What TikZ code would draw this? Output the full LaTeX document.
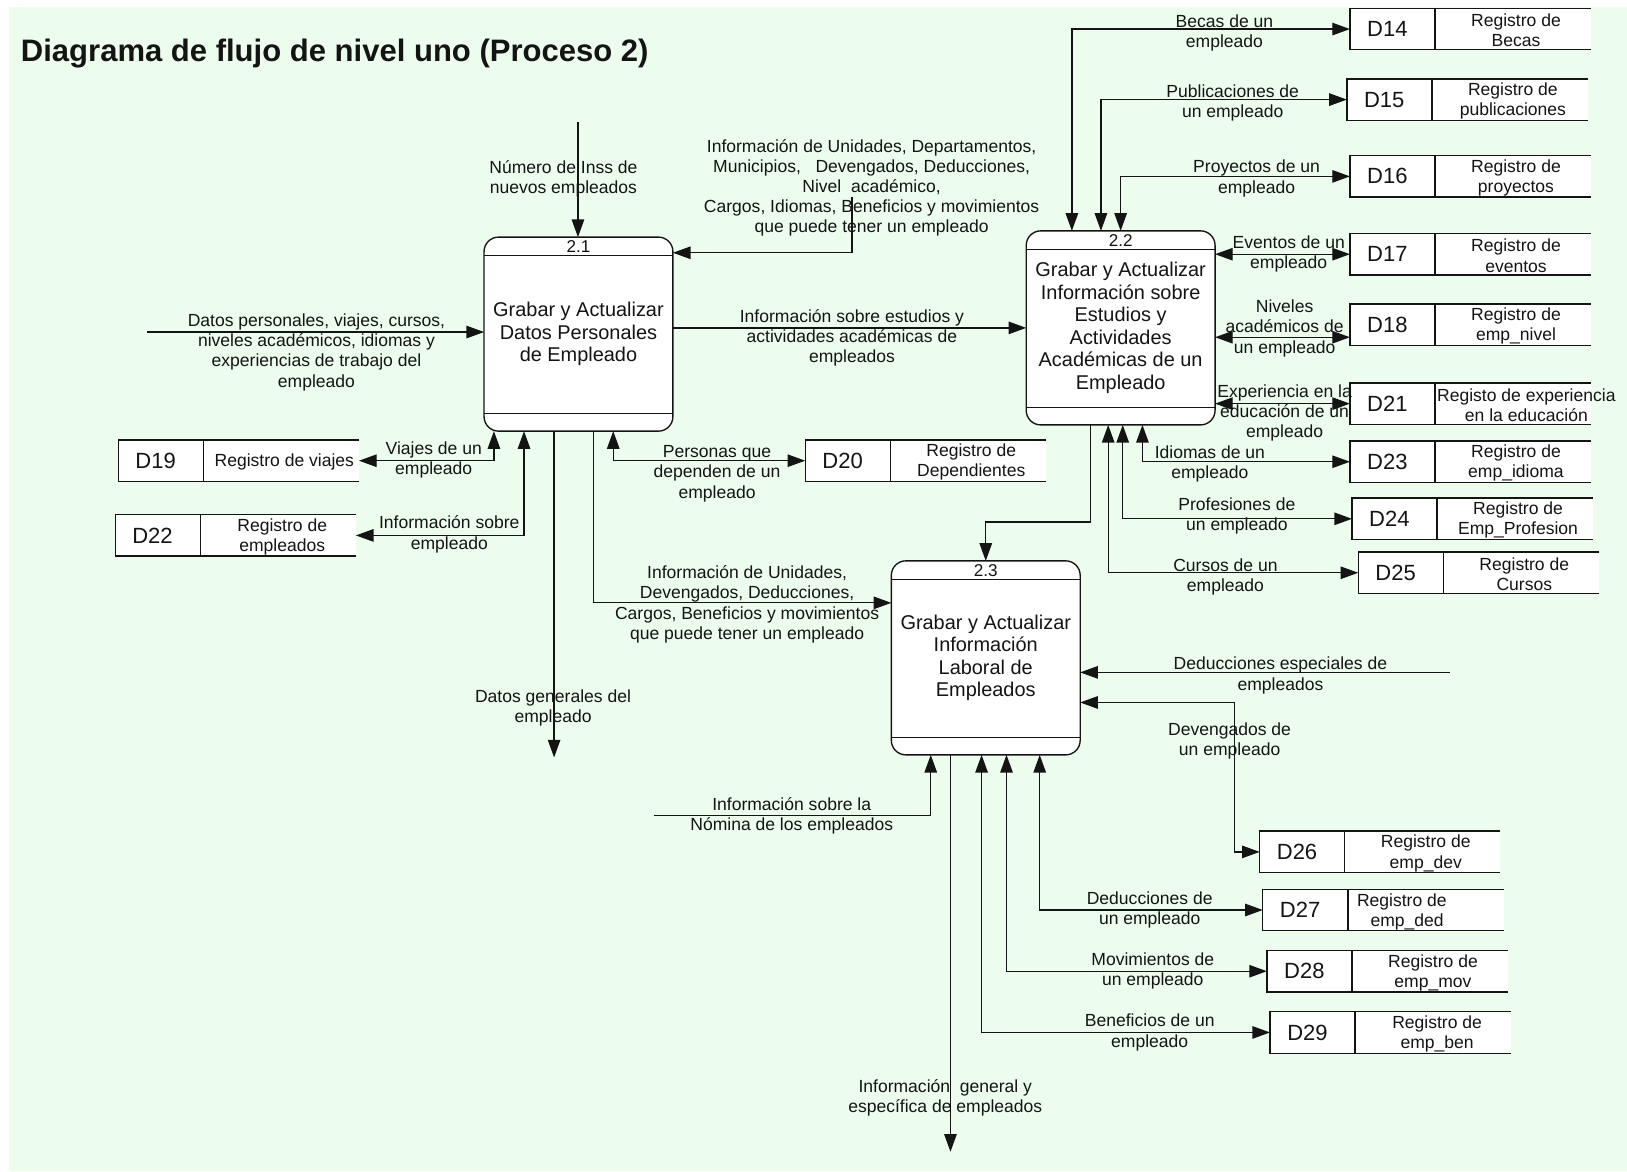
\documentclass[tikz,border=0pt]{standalone}
\usepackage{fontspec}
\setmainfont{Liberation Sans}
\usetikzlibrary{arrows.meta}
\definecolor{bggreen}{RGB}{236,253,238}
\definecolor{ink}{RGB}{20,20,20}

% text sizes
\newcommand\lbltext{\fontsize{16.9}{19.4}\selectfont}
\newcommand\proctext{\fontsize{19.2}{21.7}\selectfont}
\newcommand\idtext{\fontsize{21.2}{24}\selectfont}
\newcommand\numtext{\fontsize{16.5}{18}\selectfont}

\tikzset{
  proc/.style={draw=ink, line width=1.3pt, rounded corners=14pt, fill=white,
    minimum width=182pt, minimum height=187pt, inner sep=0pt, outer sep=0pt,
    align=center, font=\proctext, text=ink},
  storebox/.style={draw=none, fill=white, minimum width=232pt, minimum height=40pt,
    inner sep=0pt, outer sep=0pt},
  storeline/.style={draw=ink, line width=1.3pt},
  storeid/.style={font=\idtext, text=ink, inner sep=0pt},
  storename/.style={font=\lbltext, text=ink, align=center, inner sep=0pt, yshift=-1.5pt},
  lbl/.style={font=\lbltext, text=ink, align=center, inner sep=0pt, yshift=-1.5pt},
  flow/.style={draw=ink, line width=1.2pt, -{Triangle[length=17pt,width=12pt]}},
  twoway/.style={draw=ink, line width=1.2pt,
    {Triangle[length=17pt,width=12pt]}-{Triangle[length=17pt,width=12pt]}},
  plain/.style={draw=ink, line width=1.2pt},
}

% open-ended data store: name, left x, top y, id, text, text centre offset
\newcommand\datastore[6]{%
  \node[storebox] (#1) at ({#2+116},{#3+20}) {};
  \draw[storeline] (#1.north east) -- (#1.north west) -- (#1.south west) -- (#1.south east);
  \draw[storeline] ([xshift=82pt]#1.north west) -- ([xshift=82pt]#1.south west);
  \node[storeid] at ([xshift=36pt]#1.west) {#4};
  \node[storename] at ([xshift=#6pt]#1.west) {#5};
}

% process box with number band and bottom band
\newcommand\process[4]{% name, centre, number, text
  \node[proc] (#1) at (#2) {#4};
  \draw[storeline] ([yshift=-18pt]#1.north west) -- ([yshift=-18pt]#1.north east);
  \draw[storeline] ([yshift=17pt]#1.south west) -- ([yshift=17pt]#1.south east);
  \node[font=\numtext, text=ink, inner sep=0pt] at ([yshift=-9pt]#1.north) {#3};
}

\begin{document}
\begin{tikzpicture}[x=1pt, y=-1pt]
\useasboundingbox (0,0) rectangle (1568,1129);
\fill[bggreen] (8.7,6.8) rectangle (1568,1129);

\node[anchor=west, font=\fontsize{29.9}{34}\selectfont\bfseries, text=ink, inner sep=0pt]
  (title) at (20,52) {Diagrama de flujo de nivel uno (Proceso 2)};

% processes
\process{p21}{557.5,322}{2.1}{Grabar y Actualizar\\Datos Personales\\de Empleado}
\process{p22}{1080,316}{2.2}{Grabar y Actualizar\\Información sobre\\Estudios y\\Actividades\\Académicas de un\\Empleado}
\process{p23}{950,634}{2.3}{Grabar y Actualizar\\Información\\Laboral de\\Empleados}

% data stores
\datastore{d14}{1301}{8}{D14}{Registro de\\Becas}{160}
\datastore{d15}{1298}{76}{D15}{Registro de\\publicaciones}{160}
\datastore{d16}{1301}{150}{D16}{Registro de\\proyectos}{160}
\datastore{d17}{1301}{225}{D17}{Registro de\\eventos}{160}
\datastore{d18}{1301}{293}{D18}{Registro de\\emp\_nivel}{160}
\datastore{d21}{1301}{369}{D21}{Registo de experiencia\\en la educación}{170}
\datastore{d23}{1301}{425}{D23}{Registro de\\emp\_idioma}{160}
\datastore{d24}{1303}{480}{D24}{Registro de\\Emp\_Profesion}{160}
\datastore{d25}{1309}{532}{D25}{Registro de\\Cursos}{160}
\datastore{d19}{114}{424}{D19}{Registro de viajes}{160}
\datastore{d22}{111}{496}{D22}{Registro de\\empleados}{161}
\datastore{d20}{776}{424}{D20}{Registro de\\Dependientes}{160}
\datastore{d26}{1214}{801}{D26}{Registro de\\emp\_dev}{160}
\datastore{d27}{1217}{857}{D27}{Registro de\\\hspace*{0.6em}emp\_ded}{134}
\datastore{d28}{1221}{916}{D28}{Registro de\\emp\_mov}{160}
\datastore{d29}{1224}{975}{D29}{Registro de\\emp\_ben}{161}

% free ends
\coordinate (inss) at (557,118);
\coordinate (catalog) at (821,190);
\coordinate (personal) at (142,320);
\coordinate (general) at (534,730);
\coordinate (special) at (1397,648);
\coordinate (nomina) at (630,786);
\coordinate (output) at (916,1110);

% flows of process 2.1
\draw[flow] (inss) -- (inss |- p21.north);
\draw[flow] (catalog) |- (p21.east |- 0,243.6);
\draw[flow] (personal) -- (p21.west |- personal);
\draw[flow] (p21.east |- 0,316) -- (p22.west |- 0,316);
\draw[twoway] (p21.south -| 476,0) |- (d19.east);
\draw[twoway] (p21.south -| 505,0) |- (d22.east);
\draw[flow] (p21.south -| general) -- (general);
\draw[flow] (p21.south -| 572,0) |- (p23.west |- 0,581);
\draw[twoway] (p21.south -| 591,0) |- (d20.west);

% flows of process 2.2
\draw[flow] (p22.south -| 1051,0) -- (1051,503) -| (p23.north);
\draw[twoway] (p22.north -| 1033,0) |- (d14.west);
\draw[twoway] (p22.north -| 1061,0) |- (d15.west);
\draw[twoway] (p22.north -| 1080,0) |- (d16.west);
\draw[twoway] (p22.east |- d17.west) -- (d17.west);
\draw[twoway] (p22.east |- 0,325) -- (d18.west |- 0,325);
\draw[twoway] (p22.east |- d21.west) -- (d21.west);
\draw[twoway] (p22.south -| 1101,0) |- (d23.west);
\draw[twoway] (p22.south -| 1082,0) |- (d24.west);
\draw[twoway] (p22.south -| 1068,0) |- (d25.west);

% flows of process 2.3
\draw[flow] (special) -- (p23.east |- special);
\draw[twoway] (p23.east |- 0,677) -- (1190,677) |- (d26.west);
\draw[flow] (nomina) -| (p23.south -| 897,0);
\draw[flow] (p23.south -| output) -- (output);
\draw[twoway] (p23.south -| 946,0) |- (d29.west);
\draw[twoway] (p23.south -| 970,0) |- (d28.west);
\draw[twoway] (p23.south -| 1002,0) |- (d27.west);

% flow labels
\node[lbl] (l1) at (543,170.5) {Número de Inss de\\nuevos empleados};
\node[lbl] (l2) at (840,179.5) {Información de Unidades, Departamentos,\\Municipios,\ \ \ Devengados, Deducciones,\\Nivel\ \ académico,\\Cargos, Idiomas, Beneficios y movimientos\\que puede tener un empleado};
\node[lbl] (l3) at (305,338) {Datos personales, viajes, cursos,\\niveles académicos, idiomas y\\experiencias de trabajo del\\empleado};
\node[lbl] (l4) at (821,324) {Información sobre estudios y\\actividades académicas de\\empleados};
\node[lbl] (l5) at (418,441.5) {Viajes de un\\empleado};
\node[lbl] (l6) at (433,513.5) {Información sobre\\empleado};
\node[lbl] (l7) at (533,680.5) {Datos generales del\\empleado};
\node[lbl] (l8) at (720,581) {Información de Unidades,\\Devengados, Deducciones,\\Cargos, Beneficios y movimientos\\que puede tener un empleado};
\node[lbl] (l9) at (691,455) {Personas que\\dependen de un\\empleado};
\node[lbl] (l11) at (1180,30) {Becas de un\\empleado};
\node[lbl] (l12) at (1188,98) {Publicaciones de\\un empleado};
\node[lbl] (l13) at (1211,170.5) {Proyectos de un\\empleado};
\node[lbl] (l14) at (1242,243.5) {Eventos de un\\empleado};
\node[lbl] (l15) at (1238,315) {Niveles\\académicos de\\un empleado};
\node[lbl] (l16) at (1238,396.5) {Experiencia en la\\educación de un\\empleado};
\node[lbl] (l17) at (1166,445.5) {Idiomas de un\\empleado};
\node[lbl] (l18) at (1192,495.5) {Profesiones de\\un empleado};
\node[lbl] (l19) at (1181,554.5) {Cursos de un\\empleado};
\node[lbl] (l20) at (1234,649.5) {Deducciones especiales de\\empleados};
\node[lbl] (l21) at (1185,712.5) {Devengados de\\un empleado};
\node[lbl] (l22) at (763,785) {Información sobre la\\Nómina de los empleados};
\node[lbl] (l23) at (911,1056.5) {Información\ \ general y\\específica de empleados};
\node[lbl] (l24) at (1108,993.5) {Beneficios de un\\empleado};
\node[lbl] (l25) at (1111,934.5) {Movimientos de\\un empleado};
\node[lbl] (l26) at (1108,875.5) {Deducciones de\\un empleado};
\end{tikzpicture}
\end{document}
